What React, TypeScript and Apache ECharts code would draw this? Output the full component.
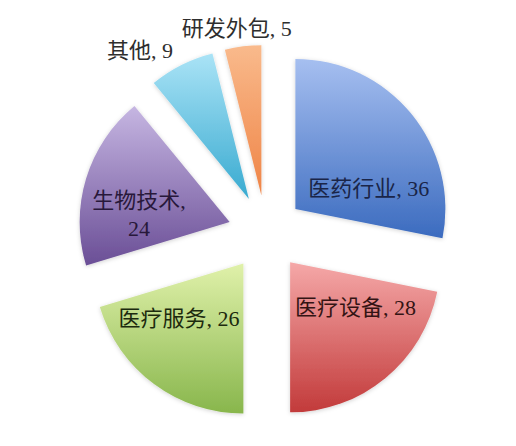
import { useEffect, useRef } from "react";
import * as echarts from "echarts";

const categories = ["医药行业", "医疗设备", "医疗服务", "生物技术", "其他", "研发外包"];
const values = [36, 28, 26, 24, 9, 5];

// top / bottom colours of each slice's gradient, and its label colour
const topColors = ["#a6bff0", "#f5a8a8", "#e0f1aa", "#c6b6e2", "#aae3f6", "#f9ba8c"];
const bottomColors = ["#3b6bbf", "#c23a3a", "#88b64c", "#6a4e96", "#38aad0", "#ef8446"];
const labelColors = ["#1a2548", "#341414", "#1c2a0e", "#28183a", "#2e2e2e", "#2e2e2e"];

// small nudges so labels sit where the original put them
const labelNudge: Array<[number, number]> = [
  [13, 29],
  [16, -15],
  [-18, -8],
  [-16, 15],
  [7, -6],
  [61, -8],
];

export default function App() {
  const ref = useRef<HTMLDivElement | null>(null);

  useEffect(() => {
    document.body.style.margin = "0";
    if (!ref.current) return;
    const chart = echarts.init(ref.current, undefined, { renderer: "svg" });

    const data = categories.map((name, i) => {
      const inside = i < 4;
      return {
        name,
        value: values[i],
        selected: true,
        itemStyle: {
          color: new echarts.graphic.LinearGradient(0, 0, 0, 1, [
            { offset: 0, color: topColors[i] },
            { offset: 1, color: bottomColors[i] },
          ]),
        },
        label: {
          position: inside ? "inside" : "outside",
          color: labelColors[i],
          formatter: name === "生物技术" ? "{b},\n{c}" : "{b}, {c}",
        },
      };
    });

    chart.setOption({
      animation: false,
      series: [
        {
          type: "pie",
          center: [266, 233],
          radius: 150,
          startAngle: 90,
          clockwise: true,
          selectedMode: "multiple",
          selectedOffset: 38,
          avoidLabelOverlap: false,
          itemStyle: {
            shadowBlur: 4,
            shadowColor: "rgba(0,0,0,0.18)",
            shadowOffsetY: 1,
          },
          label: {
            show: true,
            fontSize: 22,
            lineHeight: 28,
            fontFamily: '"Liberation Serif", "Noto Sans CJK SC", serif',
          },
          labelLine: { show: false, length: 10, length2: 6 },
          labelLayout: (params: any) => {
            const n = labelNudge[params.dataIndex] || [0, 0];
            return { dx: n[0], dy: n[1] };
          },
          emphasis: { disabled: true },
          data,
        },
      ],
    });

    return () => chart.dispose();
  }, []);

  return <div ref={ref} style={{ width: 516, height: 446 }} />;
}
